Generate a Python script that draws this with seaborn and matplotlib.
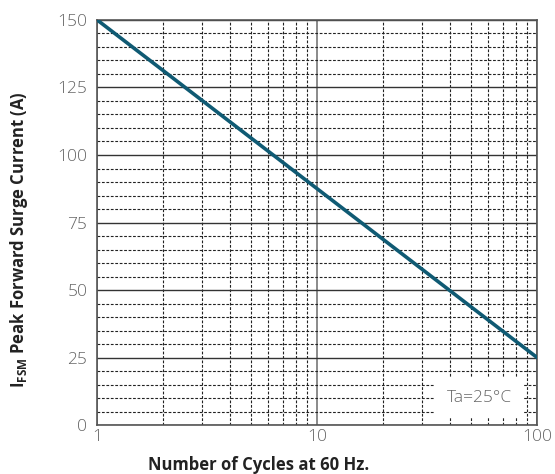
import numpy as np
import pandas as pd
import seaborn as sns
from matplotlib import pyplot as plt
from matplotlib.ticker import FixedLocator, NullFormatter

cycles = [1, 100]
current = [150, 25]
y_major = [0, 25, 50, 75, 100, 125, 150]
x_major = [1, 10, 100]
x_labels = ["1", "10", "100"]

sns.set_theme(style="white")
plt.rcParams['font.family'] = ['Open Sans', 'DejaVu Sans']
plt.rcParams['mathtext.fontset'] = 'custom'
plt.rcParams['mathtext.bf'] = 'Open Sans:bold'
plt.rcParams['mathtext.rm'] = 'Open Sans'

fig = plt.figure(figsize=(5.55, 4.74), dpi=100)
ax = fig.add_axes([0.175, 0.103, 0.793, 0.855])

df = pd.DataFrame({"cycles": cycles, "current": current})
ax.set_xscale("log")
sns.lineplot(data=df, x="cycles", y="current", color="#0f5a73", linewidth=2.6, ax=ax, zorder=5)

ax.set_xlim(1, 100)
ax.set_ylim(0, 150)

# grid: minor dashed, major solid
minor_x = [m * d for d in (1, 10) for m in range(2, 10)]
ax.xaxis.set_minor_locator(FixedLocator(minor_x))
ax.xaxis.set_minor_formatter(NullFormatter())
ax.yaxis.set_minor_locator(FixedLocator(list(range(5, 150, 5))))
ax.set_xticks(x_major)
ax.set_xticklabels(x_labels)
ax.set_yticks(y_major)

ax.grid(which="minor", color="#222222", linestyle=(0, (2.5, 1.5)), linewidth=0.8)
ax.grid(which="major", axis="y", color="#333333", linestyle="-", linewidth=1.0)
ax.grid(which="major", axis="x", color="#777777", linestyle="-", linewidth=1.2)

for side in ["left", "bottom", "right", "top"]:
    ax.spines[side].set_visible(True)
    ax.spines[side].set_color("#555555")
    ax.spines[side].set_linewidth(1.2)

ax.tick_params(which="both", length=0, labelsize=12.5, labelcolor="#666666")
ax.tick_params(axis="y", pad=7)
ax.tick_params(axis="x", pad=3)
for lbl in ax.get_xticklabels() + ax.get_yticklabels():
    lbl.set_fontweight("light")

ax.set_xlabel("Number of Cycles at 60 Hz.", fontsize=12, fontweight="bold", color="#222222")
ax.xaxis.set_label_coords(0.366, -0.077)
ax.set_ylabel(r"$\mathbf{I_{FSM}}$ Peak Forward Surge Current (A)", fontsize=12,
              fontweight="bold", color="#222222")
ax.yaxis.set_label_coords(-0.152, 0.457)

ax.text(0.868, 0.067, "Ta=25°C", transform=ax.transAxes, ha="center", va="center",
        fontsize=12.5, color="#666666", fontweight="light",
        bbox=dict(facecolor="white", edgecolor="none", boxstyle="square,pad=0.7"), zorder=6)

fig.savefig("out.png", dpi=100)
